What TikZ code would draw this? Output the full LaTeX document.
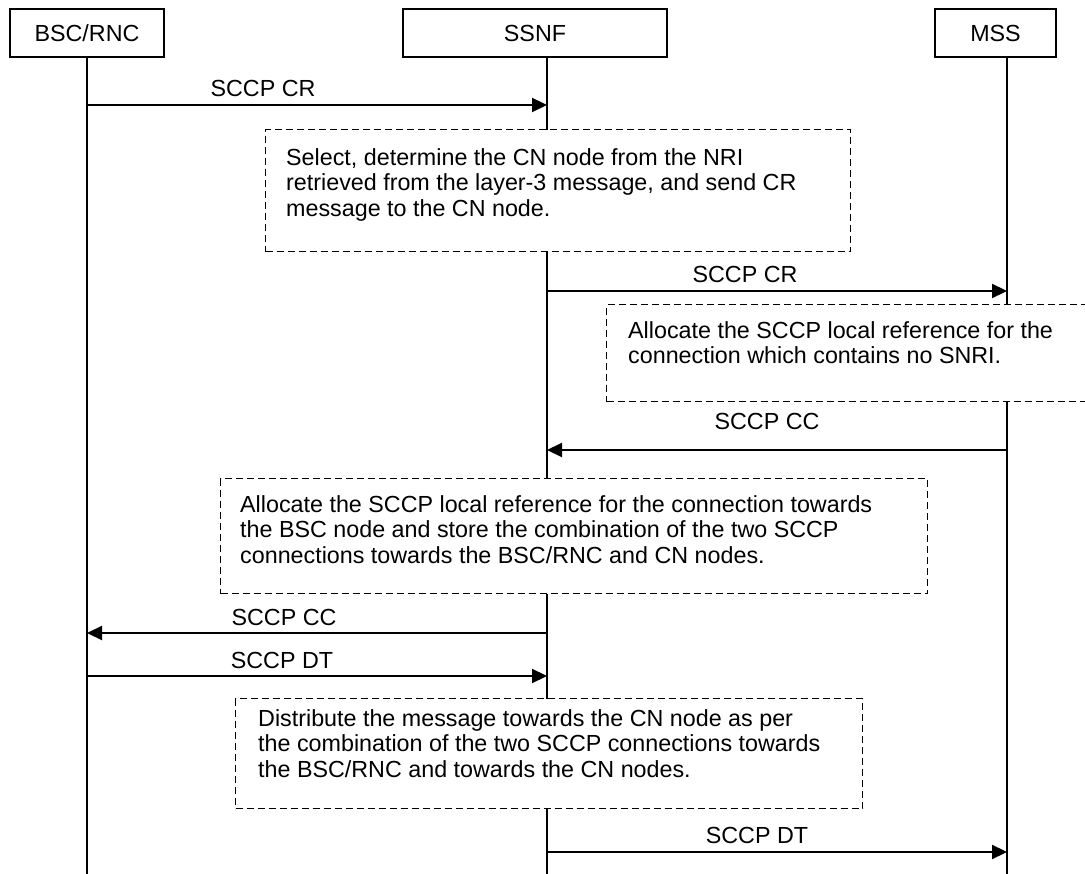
\documentclass[tikz,border=0pt]{standalone}
\usepackage{fontspec}
\setmainfont{Liberation Sans}
\usetikzlibrary{arrows.meta}
\begin{document}
\begin{tikzpicture}[x=1pt,y=-1pt,
  every node/.style={font=\fontsize{23.3}{25.5}\selectfont},
  actor/.style={draw, line width=1.5pt, minimum height=48pt, inner sep=0pt},
  life/.style={line width=1.3pt},
  msg/.style={line width=2.2pt, -{Triangle[length=15pt,width=14pt]}},
  note/.style={draw, dash pattern=on 7pt off 4pt, line width=1.3pt, fill=white, inner sep=0pt, anchor=north west},
  notetext/.style={align=left, anchor=north west, inner sep=0pt},
  lbl/.style={anchor=base, inner sep=0pt}]
\useasboundingbox (0,0) rectangle (1085,874);
\clip (0,0) rectangle (1085,874);
% participants
\node[actor, minimum width=154pt] (bsc) at (87,33) {BSC/RNC};
\node[actor, minimum width=264pt] (ssnf) at (535,33) {SSNF};
\node[actor, minimum width=121pt] (mss) at (995.5,33) {MSS};
% lifeline ends
\coordinate (bscEnd) at (87,874);
\coordinate (ssnfEnd) at (547,874);
\coordinate (mssEnd) at (1007,874);
\draw[life] (bsc.south) -- (bscEnd);
\draw[life] (ssnf.south -| ssnfEnd) -- (ssnfEnd);
\draw[life] (mss.south -| mssEnd) -- (mssEnd);
% notes
\node[note, minimum width=585pt, minimum height=122pt] (n1) at (265,129) {};
\node[note, minimum width=500pt, minimum height=97pt] (n2) at (606,304) {};
\node[note, minimum width=707pt, minimum height=115pt] (n3) at (220,478) {};
\node[note, minimum width=627pt, minimum height=110pt] (n4) at (235,698) {};
\node[notetext] (t1) at (286,148) {Select, determine the CN node from the NRI\\retrieved from the layer-3 message, and send CR\\message to the CN node.};
\node[notetext] (t2) at (628,321) {Allocate the SCCP local reference for the\\connection which contains no SNRI.};
\node[notetext] (t3) at (240,495) {Allocate the SCCP local reference for the connection towards\\the BSC node and store the combination of the two SCCP\\connections towards the BSC/RNC and CN nodes.};
\node[notetext] (t4) at (258,709) {Distribute the message towards the CN node as per\\the combination of the two SCCP connections towards\\the BSC/RNC and towards the CN nodes.};
% message end points
\coordinate (b1) at (87,105);  \coordinate (s1) at (547,105);
\coordinate (s2) at (547,291); \coordinate (m2) at (1007,291);
\coordinate (m3) at (1007,450);\coordinate (s3) at (547,450);
\coordinate (s4) at (547,633); \coordinate (b4) at (87,633);
\coordinate (b5) at (87,676);  \coordinate (s5) at (547,676);
\coordinate (s6) at (547,852); \coordinate (m6) at (1007,852);
\draw[msg] (b1) -- (s1);
\draw[msg] (s2) -- (m2);
\draw[msg] (m3) -- (s3);
\draw[msg] (s4) -- (b4);
\draw[msg] (b5) -- (s5);
\draw[msg] (s6) -- (m6);
% labels
\node[lbl] (l1) at (263,97) {SCCP CR};
\node[lbl] (l2) at (745,283) {SCCP CR};
\node[lbl] (l3) at (767,430) {SCCP CC};
\node[lbl] (l4) at (284,625) {SCCP CC};
\node[lbl] (l5) at (282,668) {SCCP DT};
\node[lbl] (l6) at (757,843) {SCCP DT};
\end{tikzpicture}
\end{document}
